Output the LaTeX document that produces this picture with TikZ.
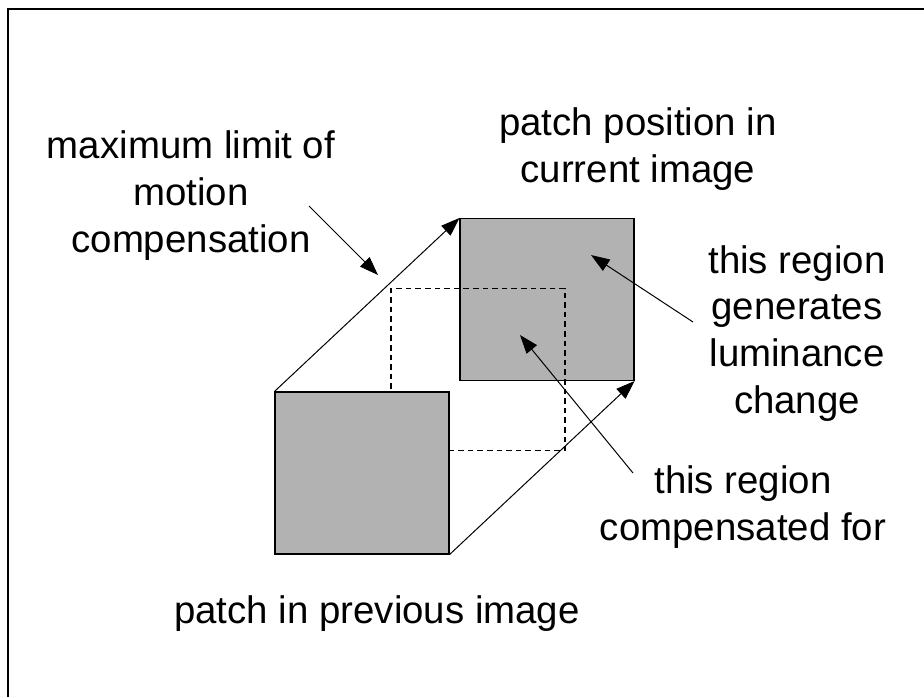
\documentclass[tikz,border=0pt]{standalone}
\usepackage{fontspec}
\setmainfont{Liberation Sans}
\usetikzlibrary{arrows.meta}
\definecolor{patchgray}{RGB}{178,178,178}
\begin{document}
\begin{tikzpicture}[x=0.75pt,y=-0.75pt,
  patch/.style={draw=black,line width=0.8pt,fill=patchgray,minimum width=130.5pt,minimum height=121.5pt,inner sep=0pt},
  dashbox/.style={draw=black,line width=0.9pt,dash pattern=on 4.2pt off 3pt,minimum width=130.5pt,minimum height=121.5pt,inner sep=0pt},
  lbl/.style={align=center,inner sep=0pt,anchor=base,font=\fontsize{28.8}{34.9}\selectfont},
  arr/.style={line width=0.75pt,-{Triangle[length=14pt,width=10pt]}}]
\useasboundingbox (0,0) rectangle (924,697);
\draw[line width=1pt] (8,697) -- (8,9) -- (924,9);
\node[patch] (cur) at (547,299.5) {};
\node[dashbox] (comp) at (478,369.5) {};
\node[patch] (prev) at (362,473) {};
\draw[arr] (prev.north west) -- (cur.north west);
\draw[arr] (prev.south east) -- (cur.south east);
\node[lbl] (maxl) at (191,252) {maximum limit of\\motion\\compensation};
\node[lbl] (curl) at (638,182) {patch position in\\current image};
\node[lbl] (luml) at (797,413) {this region\\generates\\luminance\\change};
\node[lbl] (compl) at (743,540) {this region\\compensated for};
\node[lbl] (prevl) at (377,623) {patch in previous image};
\coordinate (maxs) at (309,206);
\coordinate (maxt) at (378,275);
\coordinate (lums) at (693,322);
\coordinate (lumt) at (591,255);
\coordinate (comps) at (633,473);
\coordinate (compt) at (520,335);
\draw[arr] (maxs) -- (maxt);
\draw[arr] (lums) -- (lumt);
\draw[arr] (comps) -- (compt);
\end{tikzpicture}
\end{document}
